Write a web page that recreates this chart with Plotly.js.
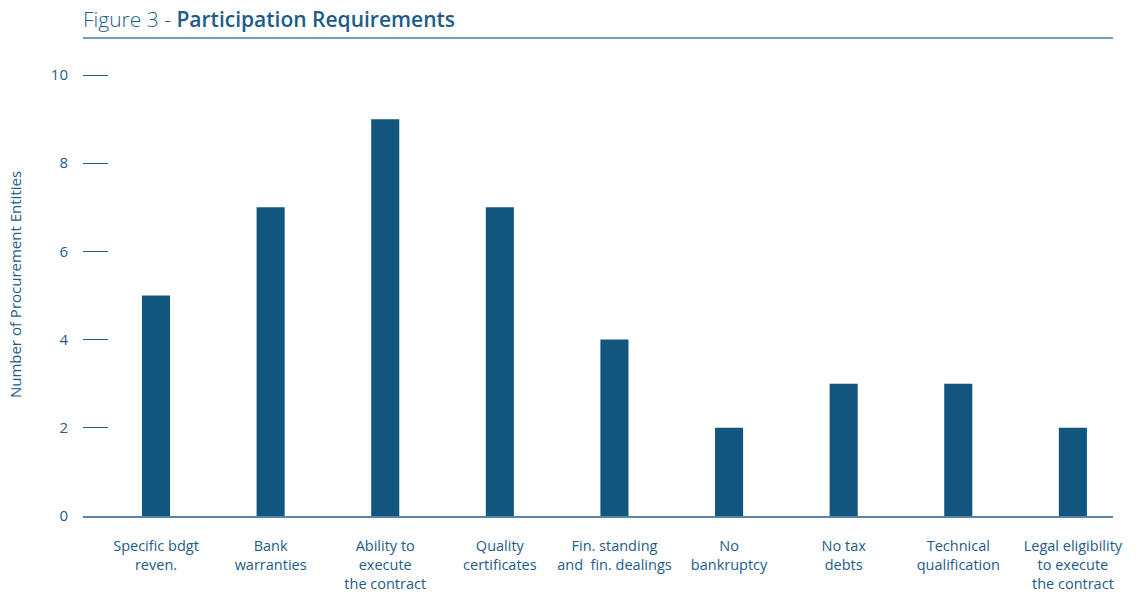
<!DOCTYPE html>
<html>
<head>
<meta charset="utf-8">
<script src="https://cdn.plot.ly/plotly-3.0.1.min.js"></script>
<style>html,body{margin:0;padding:0;background:#fff;}#chart{width:1142px;height:594px;}</style>
</head>
<body>
<div id="chart"></div>
<script>
const categories = [
  "Specific bdgt<br>reven.",
  "Bank<br>warranties",
  "Ability to<br>execute<br>the contract",
  "Quality<br>certificates",
  "Fin. standing<br>and  fin. dealings",
  "No<br>bankruptcy",
  "No tax<br>debts",
  "Technical<br>qualification",
  "Legal eligibility<br>to execute<br>the contract"
];
const counts = [5, 7, 9, 7, 4, 2, 3, 3, 2];
const yTicks = [0, 2, 4, 6, 8, 10];

const textColor = "#1d5c88";
const barColor = "#12557f";
const fontFam = "'Open Sans', Roboto, sans-serif";

const trace = {
  type: "bar",
  x: categories,
  y: counts,
  marker: {color: barColor},
  width: 0.245,
  hoverinfo: "x+y"
};

const layout = {
  width: 1142,
  height: 594,
  margin: {l: 83, r: 29, t: 53, b: 78},
  paper_bgcolor: "#ffffff",
  plot_bgcolor: "#ffffff",
  showlegend: false,
  font: {family: fontFam, color: textColor, size: 14},
  title: {
    text: "<span style='font-weight:300'>Figure 3 - </span><span style='font-weight:600'>Participation Requirements</span>",
    font: {family: fontFam, size: 21, color: textColor},
    x: 83/1142, xref: "container", xanchor: "left",
    y: 1 - 20/594, yref: "container", yanchor: "middle"
  },
  xaxis: {
    type: "category",
    range: [-0.637, 8.35],
    showgrid: false,
    zeroline: false,
    showline: true,
    linecolor: "#5a84a6",
    linewidth: 2,
    ticks: "",
    ticklabelstandoff: 16,
    tickfont: {family: fontFam, size: 14.5, color: textColor},
    fixedrange: true
  },
  yaxis: {
    range: [0, 10.5],
    tickvals: yTicks,
    ticktext: yTicks.map(String),
    showgrid: false,
    zeroline: false,
    showline: false,
    ticks: "inside",
    ticklen: 25,
    tickwidth: 1,
    tickcolor: textColor,
    ticklabelstandoff: 14,
    tickfont: {family: fontFam, size: 15, color: textColor},
    title: {
      text: "Number of Procurement Entities",
      font: {family: fontFam, size: 15, color: textColor},
      standoff: 25
    },
    fixedrange: true
  },
  shapes: [{
    type: "line", xref: "paper", yref: "paper",
    x0: 0, x1: 1, y0: (516-38)/463, y1: (516-38)/463,
    line: {color: "#4a7ba3", width: 1.5}
  }]
};

Plotly.newPlot("chart", [trace], layout, {displayModeBar: false, staticPlot: true});
</script>
</body>
</html>
